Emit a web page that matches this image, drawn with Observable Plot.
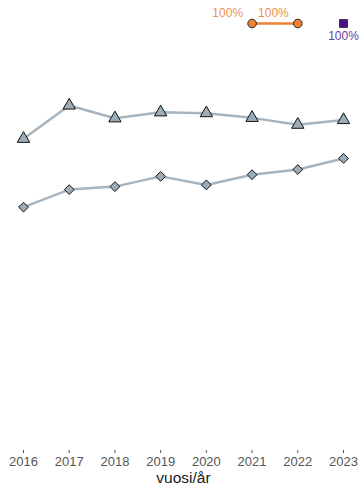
<!DOCTYPE html>
<html><head><meta charset="utf-8">
<script src="https://cdn.jsdelivr.net/npm/d3@7"></script>
<script src="https://cdn.jsdelivr.net/npm/@observablehq/plot@0.6"></script>
<style>body{margin:0;background:#fff;font-family:"Liberation Sans",Arial,sans-serif}</style>
</head><body><div id="chart"></div>
<script>
const years = [2016, 2017, 2018, 2019, 2020, 2021, 2022, 2023];
const triangleValues = [73.0, 80.8, 77.8, 79.2, 79.0, 77.9, 76.3, 77.4];
const diamondValues = [57.0, 61.1, 61.8, 64.2, 62.2, 64.6, 65.8, 68.4];
const orangeYears = [2021, 2022];
const orangeValues = [100, 100];
const purpleYears = [2023];
const purpleValues = [100];

const tri = years.map((x, i) => ({x, y: triangleValues[i]}));
const dia = years.map((x, i) => ({x, y: diamondValues[i]}));
const ora = orangeYears.map((x, i) => ({x, y: orangeValues[i]}));
const pur = purpleYears.map((x, i) => ({x, y: purpleValues[i]}));

const grey = "#a6b4bf";
const greyFill = "#9cadba";
const orange = "#ee8136";
const purple = "#4a1486";

const chart = Plot.plot({
  width: 361, height: 484,
  marginTop: 23, marginBottom: 34, marginLeft: 23, marginRight: 18,
  style: {fontFamily: "Liberation Sans, Arial, sans-serif", background: "#fff"},
  x: {domain: [2016, 2023], ticks: years, tickFormat: "d", label: null},
  y: {domain: [0, 100], axis: null},
  marks: [
    Plot.axisX({ticks: years, tickFormat: "d", tickSize: 3, tickPadding: 3, fontSize: 13, color: "#555", label: null}),
    Plot.text(["vuosi/år"], {frameAnchor: "bottom", dy: 32, lineAnchor: "bottom", fontSize: 15.5, fill: "#1a1a1a"}),
    Plot.line(tri, {x: "x", y: "y", stroke: grey, strokeWidth: 2.5}),
    Plot.dot(tri, {x: "x", y: "y", symbol: "triangle", r: 4.6, fill: greyFill, stroke: "#111", strokeWidth: 1}),
    Plot.line(dia, {x: "x", y: "y", stroke: grey, strokeWidth: 2.5}),
    Plot.dot(dia, {x: "x", y: "y", symbol: "diamond2", r: 4.4, fill: greyFill, stroke: "#111", strokeWidth: 1}),
    Plot.line(ora, {x: "x", y: "y", stroke: orange, strokeWidth: 2.5}),
    Plot.dot(ora, {x: "x", y: "y", symbol: "circle", r: 4.3, fill: orange, stroke: "#222", strokeWidth: 1}),
    Plot.text(ora, {x: "x", y: "y", text: d => d.y + "%", textAnchor: "end", dx: -9, dy: -10, fontSize: 12, fill: "#f0904c"}),
    Plot.dot(pur, {x: "x", y: "y", symbol: "square", r: 4.5, fill: purple, stroke: "#222", strokeWidth: 0.8}),
    Plot.text(pur, {x: "x", y: "y", text: d => d.y + "%", dy: 13, fontSize: 12, fill: "#6a3fa0"})
  ]
});
document.getElementById("chart").appendChild(chart);
</script></body></html>
